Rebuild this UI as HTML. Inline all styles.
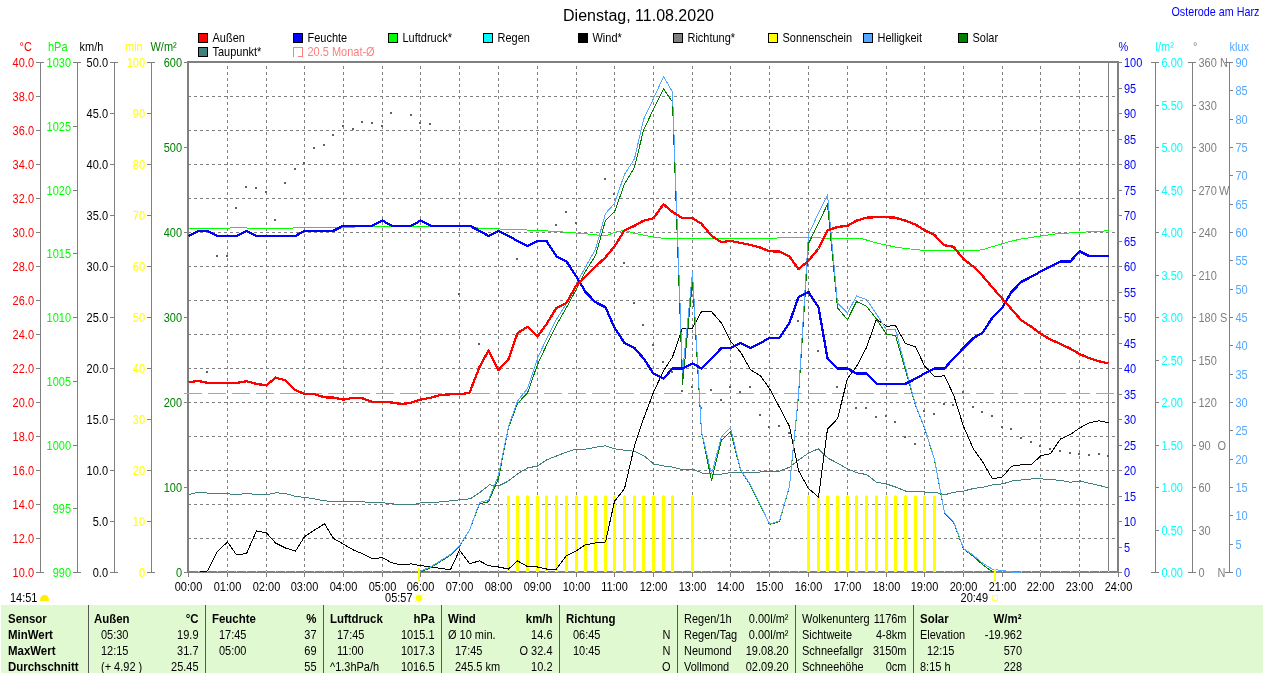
<!DOCTYPE html><html lang="de"><head><meta charset="utf-8"><title>Dienstag, 11.08.2020</title>
<style>html,body{margin:0;padding:0;background:#fff;overflow:hidden}svg{display:block;will-change:transform}text{font-family:"Liberation Sans",Arial,sans-serif;font-size:12px;white-space:pre}</style></head><body>
<svg width="1272" height="673" viewBox="0 0 1272 673" shape-rendering="crispEdges">
<rect x="0" y="0" width="1272" height="673" fill="#fff"/>
<g id="grid" stroke="#808080" stroke-width="1" stroke-dasharray="3,3">
<line x1="227.5" y1="66" x2="227.5" y2="571"/>
<line x1="266.5" y1="66" x2="266.5" y2="571"/>
<line x1="304.5" y1="66" x2="304.5" y2="571"/>
<line x1="343.5" y1="66" x2="343.5" y2="571"/>
<line x1="382.5" y1="66" x2="382.5" y2="571"/>
<line x1="420.5" y1="66" x2="420.5" y2="571"/>
<line x1="459.5" y1="66" x2="459.5" y2="571"/>
<line x1="498.5" y1="66" x2="498.5" y2="571"/>
<line x1="537.5" y1="66" x2="537.5" y2="571"/>
<line x1="576.5" y1="66" x2="576.5" y2="571"/>
<line x1="614.5" y1="66" x2="614.5" y2="571"/>
<line x1="653.5" y1="66" x2="653.5" y2="571"/>
<line x1="692.5" y1="66" x2="692.5" y2="571"/>
<line x1="730.5" y1="66" x2="730.5" y2="571"/>
<line x1="769.5" y1="66" x2="769.5" y2="571"/>
<line x1="808.5" y1="66" x2="808.5" y2="571"/>
<line x1="847.5" y1="66" x2="847.5" y2="571"/>
<line x1="886.5" y1="66" x2="886.5" y2="571"/>
<line x1="924.5" y1="66" x2="924.5" y2="571"/>
<line x1="963.5" y1="66" x2="963.5" y2="571"/>
<line x1="1002.5" y1="66" x2="1002.5" y2="571"/>
<line x1="1040.5" y1="66" x2="1040.5" y2="571"/>
<line x1="1079.5" y1="66" x2="1079.5" y2="571"/>
<line x1="188" y1="96.5" x2="1116" y2="96.5"/>
<line x1="188" y1="130.5" x2="1116" y2="130.5"/>
<line x1="188" y1="164.5" x2="1116" y2="164.5"/>
<line x1="188" y1="198.5" x2="1116" y2="198.5"/>
<line x1="188" y1="232.5" x2="1116" y2="232.5"/>
<line x1="188" y1="266.5" x2="1116" y2="266.5"/>
<line x1="188" y1="300.5" x2="1116" y2="300.5"/>
<line x1="188" y1="334.5" x2="1116" y2="334.5"/>
<line x1="188" y1="368.5" x2="1116" y2="368.5"/>
<line x1="188" y1="402.5" x2="1116" y2="402.5"/>
<line x1="188" y1="436.5" x2="1116" y2="436.5"/>
<line x1="188" y1="470.5" x2="1116" y2="470.5"/>
<line x1="188" y1="504.5" x2="1116" y2="504.5"/>
<line x1="188" y1="538.5" x2="1116" y2="538.5"/>
</g>
<rect x="187" y="61" width="932" height="2" fill="#808080"/>
<rect x="187" y="571" width="932" height="2" fill="#808080"/>
<rect x="187" y="61" width="2" height="512" fill="#808080"/>
<rect x="1117" y="61" width="2" height="512" fill="#808080"/>
<rect x="1108" y="63" width="1" height="508" fill="#808080"/>
<g id="sun" fill="#ffff00">
<rect x="198" y="571" width="1" height="1"/>
<rect x="207" y="571" width="1" height="1"/>
<rect x="217" y="571" width="1" height="1"/>
<rect x="227" y="571" width="1" height="1"/>
<rect x="236" y="571" width="1" height="1"/>
<rect x="246" y="571" width="1" height="1"/>
<rect x="256" y="571" width="1" height="1"/>
<rect x="266" y="571" width="1" height="1"/>
<rect x="275" y="571" width="1" height="1"/>
<rect x="285" y="571" width="1" height="1"/>
<rect x="295" y="571" width="1" height="1"/>
<rect x="304" y="571" width="1" height="1"/>
<rect x="314" y="571" width="1" height="1"/>
<rect x="324" y="571" width="1" height="1"/>
<rect x="333" y="571" width="1" height="1"/>
<rect x="343" y="571" width="1" height="1"/>
<rect x="353" y="571" width="1" height="1"/>
<rect x="362" y="571" width="1" height="1"/>
<rect x="372" y="571" width="1" height="1"/>
<rect x="382" y="571" width="1" height="1"/>
<rect x="391" y="571" width="1" height="1"/>
<rect x="401" y="571" width="1" height="1"/>
<rect x="411" y="571" width="1" height="1"/>
<rect x="420" y="571" width="1" height="1"/>
<rect x="430" y="571" width="1" height="1"/>
<rect x="440" y="571" width="1" height="1"/>
<rect x="450" y="571" width="1" height="1"/>
<rect x="459" y="571" width="1" height="1"/>
<rect x="469" y="571" width="1" height="1"/>
<rect x="479" y="571" width="1" height="1"/>
<rect x="488" y="571" width="1" height="1"/>
<rect x="498" y="571" width="1" height="1"/>
<rect x="507" y="496" width="3" height="76"/><rect x="508" y="495" width="1" height="1"/>
<rect x="516" y="496" width="3" height="76"/><rect x="517" y="495" width="1" height="1"/>
<rect x="526" y="496" width="3" height="76"/><rect x="527" y="495" width="1" height="1"/>
<rect x="536" y="496" width="3" height="76"/><rect x="537" y="495" width="1" height="1"/>
<rect x="545" y="496" width="3" height="76"/><rect x="546" y="495" width="1" height="1"/>
<rect x="555" y="496" width="3" height="76"/><rect x="556" y="495" width="1" height="1"/>
<rect x="565" y="496" width="3" height="76"/><rect x="566" y="495" width="1" height="1"/>
<rect x="575" y="496" width="3" height="76"/><rect x="576" y="495" width="1" height="1"/>
<rect x="584" y="496" width="3" height="76"/><rect x="585" y="495" width="1" height="1"/>
<rect x="594" y="496" width="3" height="76"/><rect x="595" y="495" width="1" height="1"/>
<rect x="604" y="496" width="3" height="76"/><rect x="605" y="495" width="1" height="1"/>
<rect x="613" y="496" width="3" height="76"/><rect x="614" y="495" width="1" height="1"/>
<rect x="623" y="496" width="3" height="76"/><rect x="624" y="495" width="1" height="1"/>
<rect x="633" y="496" width="3" height="76"/><rect x="634" y="495" width="1" height="1"/>
<rect x="642" y="496" width="3" height="76"/><rect x="643" y="495" width="1" height="1"/>
<rect x="652" y="496" width="3" height="76"/><rect x="653" y="495" width="1" height="1"/>
<rect x="662" y="496" width="3" height="76"/><rect x="663" y="495" width="1" height="1"/>
<rect x="671" y="496" width="3" height="76"/><rect x="672" y="495" width="1" height="1"/>
<rect x="682" y="571" width="1" height="1"/>
<rect x="691" y="496" width="3" height="76"/><rect x="692" y="495" width="1" height="1"/>
<rect x="701" y="571" width="1" height="1"/>
<rect x="711" y="571" width="1" height="1"/>
<rect x="721" y="571" width="1" height="1"/>
<rect x="730" y="571" width="1" height="1"/>
<rect x="740" y="571" width="1" height="1"/>
<rect x="750" y="571" width="1" height="1"/>
<rect x="760" y="571" width="1" height="1"/>
<rect x="769" y="571" width="1" height="1"/>
<rect x="779" y="571" width="1" height="1"/>
<rect x="789" y="571" width="1" height="1"/>
<rect x="798" y="571" width="1" height="1"/>
<rect x="807" y="496" width="3" height="76"/><rect x="808" y="495" width="1" height="1"/>
<rect x="817" y="496" width="3" height="76"/><rect x="818" y="495" width="1" height="1"/>
<rect x="826" y="496" width="3" height="76"/><rect x="827" y="495" width="1" height="1"/>
<rect x="836" y="496" width="3" height="76"/><rect x="837" y="495" width="1" height="1"/>
<rect x="846" y="496" width="3" height="76"/><rect x="847" y="495" width="1" height="1"/>
<rect x="855" y="496" width="3" height="76"/><rect x="856" y="495" width="1" height="1"/>
<rect x="865" y="496" width="3" height="76"/><rect x="866" y="495" width="1" height="1"/>
<rect x="875" y="496" width="3" height="76"/><rect x="876" y="495" width="1" height="1"/>
<rect x="885" y="496" width="3" height="76"/><rect x="886" y="495" width="1" height="1"/>
<rect x="894" y="496" width="3" height="76"/><rect x="895" y="495" width="1" height="1"/>
<rect x="904" y="496" width="3" height="76"/><rect x="905" y="495" width="1" height="1"/>
<rect x="914" y="496" width="3" height="76"/><rect x="915" y="495" width="1" height="1"/>
<rect x="923" y="496" width="3" height="76"/><rect x="924" y="495" width="1" height="1"/>
<rect x="933" y="496" width="3" height="76"/><rect x="934" y="495" width="1" height="1"/>
<rect x="944" y="571" width="1" height="1"/>
<rect x="953" y="571" width="1" height="1"/>
<rect x="963" y="571" width="1" height="1"/>
<rect x="973" y="571" width="1" height="1"/>
<rect x="982" y="571" width="1" height="1"/>
<rect x="992" y="571" width="1" height="1"/>
<rect x="1002" y="571" width="1" height="1"/>
<rect x="1011" y="571" width="1" height="1"/>
<rect x="1021" y="571" width="1" height="1"/>
<rect x="1031" y="571" width="1" height="1"/>
<rect x="1040" y="571" width="1" height="1"/>
<rect x="1050" y="571" width="1" height="1"/>
<rect x="1060" y="571" width="1" height="1"/>
<rect x="1070" y="571" width="1" height="1"/>
<rect x="1079" y="571" width="1" height="1"/>
<rect x="1089" y="571" width="1" height="1"/>
<rect x="1099" y="571" width="1" height="1"/>
<rect x="1108" y="571" width="1" height="1"/>
</g>
<line x1="184" y1="393.5" x2="1117" y2="393.5" stroke="#ff8080" stroke-width="1" stroke-dasharray="18,6"/>
<g id="dir" fill="#606060">
<rect x="206" y="371" width="2" height="2"/>
<rect x="216" y="255" width="2" height="2"/>
<rect x="226" y="255" width="2" height="2"/>
<rect x="235" y="207" width="2" height="2"/>
<rect x="245" y="186" width="2" height="2"/>
<rect x="255" y="187" width="2" height="2"/>
<rect x="265" y="191" width="2" height="2"/>
<rect x="274" y="219" width="2" height="2"/>
<rect x="284" y="182" width="2" height="2"/>
<rect x="294" y="168" width="2" height="2"/>
<rect x="303" y="162" width="2" height="2"/>
<rect x="313" y="147" width="2" height="2"/>
<rect x="323" y="144" width="2" height="2"/>
<rect x="332" y="134" width="2" height="2"/>
<rect x="342" y="125" width="2" height="2"/>
<rect x="352" y="128" width="2" height="2"/>
<rect x="361" y="121" width="2" height="2"/>
<rect x="371" y="122" width="2" height="2"/>
<rect x="381" y="125" width="2" height="2"/>
<rect x="390" y="112" width="2" height="2"/>
<rect x="410" y="114" width="2" height="2"/>
<rect x="419" y="122" width="2" height="2"/>
<rect x="429" y="123" width="2" height="2"/>
<rect x="458" y="293" width="2" height="2"/>
<rect x="478" y="343" width="2" height="2"/>
<rect x="516" y="258" width="2" height="2"/>
<rect x="555" y="224" width="2" height="2"/>
<rect x="565" y="211" width="2" height="2"/>
<rect x="575" y="222" width="2" height="2"/>
<rect x="604" y="178" width="2" height="2"/>
<rect x="613" y="193" width="2" height="2"/>
<rect x="623" y="262" width="2" height="2"/>
<rect x="633" y="302" width="2" height="2"/>
<rect x="642" y="324" width="2" height="2"/>
<rect x="652" y="344" width="2" height="2"/>
<rect x="662" y="361" width="2" height="2"/>
<rect x="671" y="371" width="2" height="2"/>
<rect x="681" y="390" width="2" height="2"/>
<rect x="691" y="386" width="2" height="2"/>
<rect x="700" y="407" width="2" height="2"/>
<rect x="710" y="389" width="2" height="2"/>
<rect x="720" y="399" width="2" height="2"/>
<rect x="729" y="386" width="2" height="2"/>
<rect x="739" y="391" width="2" height="2"/>
<rect x="749" y="386" width="2" height="2"/>
<rect x="759" y="414" width="2" height="2"/>
<rect x="768" y="426" width="2" height="2"/>
<rect x="778" y="425" width="2" height="2"/>
<rect x="788" y="432" width="2" height="2"/>
<rect x="797" y="320" width="2" height="2"/>
<rect x="817" y="350" width="2" height="2"/>
<rect x="836" y="386" width="2" height="2"/>
<rect x="855" y="407" width="2" height="2"/>
<rect x="865" y="407" width="2" height="2"/>
<rect x="875" y="416" width="2" height="2"/>
<rect x="885" y="415" width="2" height="2"/>
<rect x="894" y="421" width="2" height="2"/>
<rect x="904" y="436" width="2" height="2"/>
<rect x="914" y="443" width="2" height="2"/>
<rect x="923" y="410" width="2" height="2"/>
<rect x="933" y="413" width="2" height="2"/>
<rect x="943" y="403" width="2" height="2"/>
<rect x="952" y="404" width="2" height="2"/>
<rect x="962" y="391" width="2" height="2"/>
<rect x="972" y="406" width="2" height="2"/>
<rect x="981" y="411" width="2" height="2"/>
<rect x="991" y="415" width="2" height="2"/>
<rect x="1001" y="426" width="2" height="2"/>
<rect x="1010" y="428" width="2" height="2"/>
<rect x="1020" y="437" width="2" height="2"/>
<rect x="1030" y="441" width="2" height="2"/>
<rect x="1039" y="445" width="2" height="2"/>
<rect x="1049" y="448" width="2" height="2"/>
<rect x="1059" y="450" width="2" height="2"/>
<rect x="1069" y="452" width="2" height="2"/>
<rect x="1078" y="453" width="2" height="2"/>
<rect x="1088" y="454" width="2" height="2"/>
<rect x="1098" y="453" width="2" height="2"/>
<rect x="1107" y="455" width="2" height="2"/>
</g>
<polyline points="188.8,494.5 199.4,492.0 208.3,493.2 217.9,493.7 227.7,493.7 237.3,495.0 246.9,493.0 256.8,494.8 266.4,494.8 276.0,492.7 285.8,493.7 295.4,496.3 305.3,497.5 314.9,499.0 324.5,500.8 334.3,501.8 343.9,501.8 353.8,501.8 363.4,501.8 373.0,502.8 382.8,502.8 392.4,503.8 402.3,504.9 411.8,504.9 421.4,502.8 431.3,502.8 440.9,501.8 450.7,500.8 460.3,499.8 470.2,498.8 479.8,492.5 489.4,484.9 499.2,485.7 508.2,481.1 518.0,473.5 527.6,468.0 537.5,466.0 547.1,459.6 556.7,455.9 566.5,452.1 576.1,449.0 586.0,449.0 595.6,447.3 605.2,445.8 615.0,448.8 624.6,450.3 634.5,451.3 644.1,455.9 653.7,463.9 663.5,466.0 673.1,467.2 683.0,469.8 692.6,469.0 702.1,473.0 712.0,474.0 721.6,474.0 731.4,472.5 741.0,472.0 750.6,473.0 760.5,472.0 770.1,471.5 779.9,471.0 789.5,467.2 799.1,459.6 809.0,452.8 818.2,448.8 828.0,458.2 837.6,463.2 847.5,468.8 857.1,472.8 866.7,474.6 876.5,482.2 886.1,483.9 896.0,487.2 905.6,491.0 915.2,491.0 925.0,492.0 934.6,492.0 944.5,494.8 954.1,492.3 963.7,491.0 973.5,488.5 983.1,487.2 993.0,484.7 1002.6,483.9 1012.1,480.9 1022.0,479.9 1031.6,478.9 1041.4,478.9 1051.0,479.6 1060.6,480.4 1070.5,482.2 1080.1,480.9 1089.9,483.4 1099.5,485.5 1109.1,488.0" fill="none" stroke="#408080" stroke-width="1" />
<polyline points="200.5,571.7 207.5,571.0 217.5,551.3 227.5,542.0 236.5,554.8 246.5,553.6 256.5,530.9 266.5,532.9 275.5,543.0 285.5,548.0 295.5,551.1 304.5,536.7 314.5,530.1 324.5,523.8 333.5,538.4 343.5,544.2 353.5,550.0 362.5,553.8 372.5,558.9 382.5,557.6 391.5,562.7 401.5,564.9 411.5,563.9 420.5,565.7 430.5,566.7 440.5,568.5 450.5,569.7 459.5,550.0 469.5,563.7 479.5,560.9 488.5,565.7 498.5,567.0 508.5,569.0 517.5,560.9 527.5,566.5 537.5,567.0 546.5,569.0 556.5,569.0 566.5,555.6 576.5,550.6 585.5,544.7 595.5,543.0 605.5,542.0 614.5,501.3 624.5,488.7 634.5,445.8 643.5,418.8 653.5,392.3 663.5,370.8 672.5,357.0 682.5,328.0 692.5,328.0 701.5,311.6 711.5,311.6 721.5,323.0 730.5,341.2 740.5,351.9 750.5,369.8 760.5,375.9 769.5,388.5 779.5,407.4 789.5,426.4 798.5,470.5 808.5,488.5 818.5,497.1 827.5,428.9 837.5,418.8 847.5,378.4 856.5,366.5 866.5,347.5 876.5,319.2 886.5,326.3 895.5,325.5 905.5,343.5 915.5,346.7 924.5,365.8 934.5,376.4 944.5,375.9 953.5,394.8 963.5,426.4 973.5,449.1 982.5,461.7 992.5,478.9 1002.5,476.9 1011.5,466.3 1021.5,464.7 1031.5,464.7 1040.5,455.9 1050.5,453.6 1060.5,439.0 1070.5,434.4 1079.5,428.1 1089.5,422.6 1099.5,420.8 1108.5,422.8" fill="none" stroke="#000" stroke-width="1" />
<polyline points="188.8,228.8 241.1,227.8 256.3,228.3 289.1,228.3 301.7,227.3 337.1,227.3 367.4,226.8 458.3,225.8 468.4,226.5 483.6,228.8 490.5,228.8 513.2,229.3 553.6,231.3 586.5,233.8 605.4,235.9 615.0,232.3 624.6,230.3 634.5,233.3 653.7,237.1 663.5,238.4 717.8,238.9 768.3,238.9 778.4,237.9 810.0,237.9 861.1,238.4 876.3,242.9 896.0,247.2 905.6,248.5 925.0,250.5 977.3,250.5 983.1,249.5 993.0,246.5 1012.1,240.9 1022.0,238.9 1041.4,235.9 1060.6,233.3 1080.1,232.6 1089.9,231.6 1109.1,230.8" fill="none" stroke="#00ff00" stroke-width="1" />
<polyline points="420.5,572.0 430.5,567.8 440.5,561.5 450.5,555.1 459.5,546.3 469.5,530.3 479.5,503.8 488.5,501.8 498.5,478.3 508.5,427.6 517.5,403.4 527.5,393.0 537.5,364.5 546.5,345.2 556.5,325.0 566.5,307.5 576.5,288.9 585.5,271.2 595.5,255.5 605.5,220.3 614.5,211.9 624.5,184.0 634.5,167.3 643.5,130.2 653.5,109.1 663.5,88.8 672.5,102.0 682.5,384.5 692.5,281.3 701.5,432.0 711.5,480.5 721.5,440.2 730.5,431.5 740.5,470.0 750.5,485.5 760.5,505.5 769.5,524.5 779.5,521.5 789.5,486.5 798.5,396.5 808.5,243.5 818.5,223.2 827.5,204.2 837.5,307.8 847.5,319.7 856.5,301.5 866.5,306.1 876.5,319.2 886.5,334.3 895.5,335.5 905.5,370.2 915.5,405.5 924.5,428.0 934.5,460.0 944.5,513.0 953.5,522.0 963.5,549.0 973.5,556.5 982.5,564.5 992.5,571.8" fill="none" stroke="#008000" stroke-width="1" />
<polyline points="414.5,571.5 419.5,571.5 420.5,571.1 430.5,567.0 440.5,560.7 450.5,554.3 459.5,545.5 469.5,530.3 479.5,502.5 488.5,500.0 498.5,475.0 508.5,426.4 517.5,401.1 527.5,388.5 537.5,358.2 546.5,339.0 556.5,319.2 566.5,303.5 576.5,283.7 585.5,267.0 595.5,249.4 605.5,213.4 614.5,203.5 624.5,174.3 634.5,158.8 643.5,119.6 653.5,98.5 663.5,76.7 672.5,91.9 682.5,373.3 692.5,272.5 701.5,431.5 711.5,474.3 721.5,436.5 730.5,427.5 740.5,469.5 750.5,484.9 760.5,505.1 769.5,524.0 779.5,520.8 789.5,486.0 798.5,394.5 808.5,234.5 818.5,213.1 827.5,194.9 837.5,302.8 847.5,312.9 856.5,296.0 866.5,299.5 876.5,314.1 886.5,329.8 895.5,329.8 905.5,367.5 915.5,404.9 924.5,427.5 934.5,459.5 944.5,512.5 953.5,521.3 963.5,548.5 973.5,555.5 982.5,563.0 992.5,569.3 1002.5,570.5 1011.5,572.0 1021.5,572.0" fill="none" stroke="#55a8ff" stroke-width="1" />
<polyline points="188.5,235.9 198.5,230.8 207.5,230.8 217.5,235.9 227.5,235.9 236.5,235.9 246.5,230.8 256.5,235.9 266.5,235.9 275.5,235.9 285.5,235.9 295.5,235.9 304.5,230.8 314.5,230.8 324.5,230.8 333.5,230.8 343.5,225.7 353.5,225.7 362.5,225.7 372.5,225.7 382.5,220.6 391.5,225.7 401.5,225.7 411.5,225.7 420.5,220.6 430.5,225.7 440.5,225.7 450.5,225.7 459.5,225.7 469.5,225.7 479.5,230.8 488.5,235.9 498.5,230.8 508.5,235.9 517.5,241.0 527.5,246.1 537.5,241.0 546.5,241.0 556.5,256.3 566.5,261.4 576.5,276.7 585.5,292.0 595.5,302.2 605.5,307.3 614.5,327.7 624.5,343.0 634.5,348.1 643.5,358.3 653.5,373.6 663.5,378.7 672.5,368.5 682.5,368.5 692.5,363.4 701.5,368.5 711.5,358.3 721.5,348.1 730.5,348.1 740.5,343.0 750.5,348.1 760.5,343.0 769.5,337.9 779.5,337.9 789.5,322.6 798.5,297.1 808.5,292.0 818.5,307.3 827.5,358.3 837.5,368.5 847.5,368.5 856.5,373.6 866.5,373.6 876.5,383.8 886.5,383.8 895.5,383.8 905.5,383.8 915.5,378.7 924.5,373.6 934.5,368.5 944.5,368.5 953.5,358.3 963.5,348.1 973.5,337.9 982.5,332.8 992.5,317.5 1002.5,307.3 1011.5,292.0 1021.5,281.8 1031.5,276.7 1040.5,271.6 1050.5,266.5 1060.5,261.4 1070.5,261.4 1079.5,251.2 1089.5,256.3 1099.5,256.3 1108.5,256.3" fill="none" stroke="#0000ff" stroke-width="2.3" stroke-linejoin="round"/>
<polyline points="188.5,382.2 198.5,380.9 207.5,382.9 217.5,382.9 227.5,382.9 236.5,382.9 246.5,381.2 256.5,383.9 266.5,385.4 275.5,377.6 285.5,380.4 295.5,390.2 304.5,394.0 314.5,394.3 324.5,397.3 333.5,397.6 343.5,399.6 353.5,397.8 362.5,398.3 372.5,401.9 382.5,402.1 391.5,402.4 401.5,404.1 411.5,402.6 420.5,399.6 430.5,397.8 440.5,395.0 450.5,394.3 459.5,394.3 469.5,392.8 479.5,367.0 488.5,350.6 498.5,370.0 508.5,359.1 517.5,333.1 527.5,326.8 537.5,336.4 546.5,324.2 556.5,307.8 566.5,302.8 576.5,285.1 585.5,276.3 595.5,266.7 605.5,257.3 614.5,246.5 624.5,230.3 634.5,225.8 643.5,220.7 653.5,218.2 663.5,204.3 672.5,211.9 682.5,218.2 692.5,218.2 701.5,223.7 711.5,235.9 721.5,242.2 730.5,240.9 740.5,242.9 750.5,244.9 760.5,247.7 769.5,251.3 779.5,251.5 789.5,256.5 798.5,269.2 808.5,260.8 818.5,248.5 827.5,230.3 837.5,227.0 847.5,225.8 856.5,220.7 866.5,217.7 876.5,217.2 886.5,217.2 895.5,217.7 905.5,220.7 915.5,224.5 924.5,230.3 934.5,235.1 944.5,245.2 953.5,246.7 963.5,259.1 973.5,266.7 982.5,275.8 992.5,287.6 1002.5,299.0 1011.5,309.1 1021.5,320.5 1031.5,326.8 1040.5,333.6 1050.5,339.6 1060.5,343.9 1070.5,348.7 1079.5,354.0 1089.5,358.3 1099.5,361.4 1108.5,363.4" fill="none" stroke="#ff0000" stroke-width="2.3" stroke-linejoin="round"/>
<rect x="188" y="573" width="1" height="4" fill="#808080"/>
<text transform="matrix(0.915 0 0 1 188.5 591)" fill="#000" text-anchor="middle" >00:00</text>
<rect x="227" y="573" width="1" height="4" fill="#808080"/>
<text transform="matrix(0.915 0 0 1 227.5 591)" fill="#000" text-anchor="middle" >01:00</text>
<rect x="266" y="573" width="1" height="4" fill="#808080"/>
<text transform="matrix(0.915 0 0 1 266.5 591)" fill="#000" text-anchor="middle" >02:00</text>
<rect x="304" y="573" width="1" height="4" fill="#808080"/>
<text transform="matrix(0.915 0 0 1 304.5 591)" fill="#000" text-anchor="middle" >03:00</text>
<rect x="343" y="573" width="1" height="4" fill="#808080"/>
<text transform="matrix(0.915 0 0 1 343.5 591)" fill="#000" text-anchor="middle" >04:00</text>
<rect x="382" y="573" width="1" height="4" fill="#808080"/>
<text transform="matrix(0.915 0 0 1 382.5 591)" fill="#000" text-anchor="middle" >05:00</text>
<rect x="420" y="573" width="1" height="4" fill="#808080"/>
<text transform="matrix(0.915 0 0 1 420.5 591)" fill="#000" text-anchor="middle" >06:00</text>
<rect x="459" y="573" width="1" height="4" fill="#808080"/>
<text transform="matrix(0.915 0 0 1 459.5 591)" fill="#000" text-anchor="middle" >07:00</text>
<rect x="498" y="573" width="1" height="4" fill="#808080"/>
<text transform="matrix(0.915 0 0 1 498.5 591)" fill="#000" text-anchor="middle" >08:00</text>
<rect x="537" y="573" width="1" height="4" fill="#808080"/>
<text transform="matrix(0.915 0 0 1 537.5 591)" fill="#000" text-anchor="middle" >09:00</text>
<rect x="576" y="573" width="1" height="4" fill="#808080"/>
<text transform="matrix(0.915 0 0 1 576.5 591)" fill="#000" text-anchor="middle" >10:00</text>
<rect x="614" y="573" width="1" height="4" fill="#808080"/>
<text transform="matrix(0.915 0 0 1 614.5 591)" fill="#000" text-anchor="middle" >11:00</text>
<rect x="653" y="573" width="1" height="4" fill="#808080"/>
<text transform="matrix(0.915 0 0 1 653.5 591)" fill="#000" text-anchor="middle" >12:00</text>
<rect x="692" y="573" width="1" height="4" fill="#808080"/>
<text transform="matrix(0.915 0 0 1 692.5 591)" fill="#000" text-anchor="middle" >13:00</text>
<rect x="730" y="573" width="1" height="4" fill="#808080"/>
<text transform="matrix(0.915 0 0 1 730.5 591)" fill="#000" text-anchor="middle" >14:00</text>
<rect x="769" y="573" width="1" height="4" fill="#808080"/>
<text transform="matrix(0.915 0 0 1 769.5 591)" fill="#000" text-anchor="middle" >15:00</text>
<rect x="808" y="573" width="1" height="4" fill="#808080"/>
<text transform="matrix(0.915 0 0 1 808.5 591)" fill="#000" text-anchor="middle" >16:00</text>
<rect x="847" y="573" width="1" height="4" fill="#808080"/>
<text transform="matrix(0.915 0 0 1 847.5 591)" fill="#000" text-anchor="middle" >17:00</text>
<rect x="886" y="573" width="1" height="4" fill="#808080"/>
<text transform="matrix(0.915 0 0 1 886.5 591)" fill="#000" text-anchor="middle" >18:00</text>
<rect x="924" y="573" width="1" height="4" fill="#808080"/>
<text transform="matrix(0.915 0 0 1 924.5 591)" fill="#000" text-anchor="middle" >19:00</text>
<rect x="963" y="573" width="1" height="4" fill="#808080"/>
<text transform="matrix(0.915 0 0 1 963.5 591)" fill="#000" text-anchor="middle" >20:00</text>
<rect x="1002" y="573" width="1" height="4" fill="#808080"/>
<text transform="matrix(0.915 0 0 1 1002.5 591)" fill="#000" text-anchor="middle" >21:00</text>
<rect x="1040" y="573" width="1" height="4" fill="#808080"/>
<text transform="matrix(0.915 0 0 1 1040.5 591)" fill="#000" text-anchor="middle" >22:00</text>
<rect x="1079" y="573" width="1" height="4" fill="#808080"/>
<text transform="matrix(0.915 0 0 1 1079.5 591)" fill="#000" text-anchor="middle" >23:00</text>
<rect x="1118" y="573" width="1" height="4" fill="#808080"/>
<text transform="matrix(0.915 0 0 1 1118.5 591)" fill="#000" text-anchor="middle" >24:00</text>
<rect x="40" y="62" width="1" height="511" fill="#808080"/>
<rect x="36" y="62" width="8" height="1" fill="#808080"/>
<rect x="36" y="572" width="8" height="1" fill="#808080"/>
<rect x="36" y="572" width="4" height="1" fill="#808080"/>
<text transform="matrix(0.915 0 0 1 34 577)" fill="#ff0000" text-anchor="end" >10.0</text>
<rect x="36" y="538" width="4" height="1" fill="#808080"/>
<text transform="matrix(0.915 0 0 1 34 543)" fill="#ff0000" text-anchor="end" >12.0</text>
<rect x="36" y="504" width="4" height="1" fill="#808080"/>
<text transform="matrix(0.915 0 0 1 34 509)" fill="#ff0000" text-anchor="end" >14.0</text>
<rect x="36" y="470" width="4" height="1" fill="#808080"/>
<text transform="matrix(0.915 0 0 1 34 475)" fill="#ff0000" text-anchor="end" >16.0</text>
<rect x="36" y="436" width="4" height="1" fill="#808080"/>
<text transform="matrix(0.915 0 0 1 34 441)" fill="#ff0000" text-anchor="end" >18.0</text>
<rect x="36" y="402" width="4" height="1" fill="#808080"/>
<text transform="matrix(0.915 0 0 1 34 407)" fill="#ff0000" text-anchor="end" >20.0</text>
<rect x="36" y="368" width="4" height="1" fill="#808080"/>
<text transform="matrix(0.915 0 0 1 34 373)" fill="#ff0000" text-anchor="end" >22.0</text>
<rect x="36" y="334" width="4" height="1" fill="#808080"/>
<text transform="matrix(0.915 0 0 1 34 339)" fill="#ff0000" text-anchor="end" >24.0</text>
<rect x="36" y="300" width="4" height="1" fill="#808080"/>
<text transform="matrix(0.915 0 0 1 34 305)" fill="#ff0000" text-anchor="end" >26.0</text>
<rect x="36" y="266" width="4" height="1" fill="#808080"/>
<text transform="matrix(0.915 0 0 1 34 271)" fill="#ff0000" text-anchor="end" >28.0</text>
<rect x="36" y="232" width="4" height="1" fill="#808080"/>
<text transform="matrix(0.915 0 0 1 34 237)" fill="#ff0000" text-anchor="end" >30.0</text>
<rect x="36" y="198" width="4" height="1" fill="#808080"/>
<text transform="matrix(0.915 0 0 1 34 203)" fill="#ff0000" text-anchor="end" >32.0</text>
<rect x="36" y="164" width="4" height="1" fill="#808080"/>
<text transform="matrix(0.915 0 0 1 34 169)" fill="#ff0000" text-anchor="end" >34.0</text>
<rect x="36" y="130" width="4" height="1" fill="#808080"/>
<text transform="matrix(0.915 0 0 1 34 135)" fill="#ff0000" text-anchor="end" >36.0</text>
<rect x="36" y="96" width="4" height="1" fill="#808080"/>
<text transform="matrix(0.915 0 0 1 34 101)" fill="#ff0000" text-anchor="end" >38.0</text>
<rect x="36" y="62" width="4" height="1" fill="#808080"/>
<text transform="matrix(0.915 0 0 1 34 67)" fill="#ff0000" text-anchor="end" >40.0</text>
<text transform="matrix(0.915 0 0 1 19.5 51)" fill="#ff0000" >°C</text>
<rect x="77" y="62" width="1" height="511" fill="#808080"/>
<rect x="73" y="62" width="8" height="1" fill="#808080"/>
<rect x="73" y="572" width="8" height="1" fill="#808080"/>
<rect x="73" y="572" width="4" height="1" fill="#808080"/>
<text transform="matrix(0.915 0 0 1 71 577)" fill="#00ff00" text-anchor="end" >990</text>
<rect x="73" y="508" width="4" height="1" fill="#808080"/>
<text transform="matrix(0.915 0 0 1 71 513)" fill="#00ff00" text-anchor="end" >995</text>
<rect x="73" y="445" width="4" height="1" fill="#808080"/>
<text transform="matrix(0.915 0 0 1 71 450)" fill="#00ff00" text-anchor="end" >1000</text>
<rect x="73" y="381" width="4" height="1" fill="#808080"/>
<text transform="matrix(0.915 0 0 1 71 386)" fill="#00ff00" text-anchor="end" >1005</text>
<rect x="73" y="317" width="4" height="1" fill="#808080"/>
<text transform="matrix(0.915 0 0 1 71 322)" fill="#00ff00" text-anchor="end" >1010</text>
<rect x="73" y="253" width="4" height="1" fill="#808080"/>
<text transform="matrix(0.915 0 0 1 71 258)" fill="#00ff00" text-anchor="end" >1015</text>
<rect x="73" y="190" width="4" height="1" fill="#808080"/>
<text transform="matrix(0.915 0 0 1 71 195)" fill="#00ff00" text-anchor="end" >1020</text>
<rect x="73" y="126" width="4" height="1" fill="#808080"/>
<text transform="matrix(0.915 0 0 1 71 131)" fill="#00ff00" text-anchor="end" >1025</text>
<rect x="73" y="62" width="4" height="1" fill="#808080"/>
<text transform="matrix(0.915 0 0 1 71 67)" fill="#00ff00" text-anchor="end" >1030</text>
<text transform="matrix(0.915 0 0 1 48 51)" fill="#00ff00" >hPa</text>
<rect x="114" y="62" width="1" height="511" fill="#808080"/>
<rect x="110" y="62" width="8" height="1" fill="#808080"/>
<rect x="110" y="572" width="8" height="1" fill="#808080"/>
<rect x="110" y="572" width="4" height="1" fill="#808080"/>
<text transform="matrix(0.915 0 0 1 108 577)" fill="#000000" text-anchor="end" >0.0</text>
<rect x="110" y="521" width="4" height="1" fill="#808080"/>
<text transform="matrix(0.915 0 0 1 108 526)" fill="#000000" text-anchor="end" >5.0</text>
<rect x="110" y="470" width="4" height="1" fill="#808080"/>
<text transform="matrix(0.915 0 0 1 108 475)" fill="#000000" text-anchor="end" >10.0</text>
<rect x="110" y="419" width="4" height="1" fill="#808080"/>
<text transform="matrix(0.915 0 0 1 108 424)" fill="#000000" text-anchor="end" >15.0</text>
<rect x="110" y="368" width="4" height="1" fill="#808080"/>
<text transform="matrix(0.915 0 0 1 108 373)" fill="#000000" text-anchor="end" >20.0</text>
<rect x="110" y="317" width="4" height="1" fill="#808080"/>
<text transform="matrix(0.915 0 0 1 108 322)" fill="#000000" text-anchor="end" >25.0</text>
<rect x="110" y="266" width="4" height="1" fill="#808080"/>
<text transform="matrix(0.915 0 0 1 108 271)" fill="#000000" text-anchor="end" >30.0</text>
<rect x="110" y="215" width="4" height="1" fill="#808080"/>
<text transform="matrix(0.915 0 0 1 108 220)" fill="#000000" text-anchor="end" >35.0</text>
<rect x="110" y="164" width="4" height="1" fill="#808080"/>
<text transform="matrix(0.915 0 0 1 108 169)" fill="#000000" text-anchor="end" >40.0</text>
<rect x="110" y="113" width="4" height="1" fill="#808080"/>
<text transform="matrix(0.915 0 0 1 108 118)" fill="#000000" text-anchor="end" >45.0</text>
<rect x="110" y="62" width="4" height="1" fill="#808080"/>
<text transform="matrix(0.915 0 0 1 108 67)" fill="#000000" text-anchor="end" >50.0</text>
<text transform="matrix(0.915 0 0 1 79.5 51)" fill="#000000" >km/h</text>
<rect x="151" y="62" width="1" height="511" fill="#808080"/>
<rect x="147" y="62" width="8" height="1" fill="#808080"/>
<rect x="147" y="572" width="8" height="1" fill="#808080"/>
<rect x="147" y="572" width="4" height="1" fill="#808080"/>
<text transform="matrix(0.915 0 0 1 145 577)" fill="#ffff00" text-anchor="end" >0</text>
<rect x="147" y="521" width="4" height="1" fill="#808080"/>
<text transform="matrix(0.915 0 0 1 145 526)" fill="#ffff00" text-anchor="end" >10</text>
<rect x="147" y="470" width="4" height="1" fill="#808080"/>
<text transform="matrix(0.915 0 0 1 145 475)" fill="#ffff00" text-anchor="end" >20</text>
<rect x="147" y="419" width="4" height="1" fill="#808080"/>
<text transform="matrix(0.915 0 0 1 145 424)" fill="#ffff00" text-anchor="end" >30</text>
<rect x="147" y="368" width="4" height="1" fill="#808080"/>
<text transform="matrix(0.915 0 0 1 145 373)" fill="#ffff00" text-anchor="end" >40</text>
<rect x="147" y="317" width="4" height="1" fill="#808080"/>
<text transform="matrix(0.915 0 0 1 145 322)" fill="#ffff00" text-anchor="end" >50</text>
<rect x="147" y="266" width="4" height="1" fill="#808080"/>
<text transform="matrix(0.915 0 0 1 145 271)" fill="#ffff00" text-anchor="end" >60</text>
<rect x="147" y="215" width="4" height="1" fill="#808080"/>
<text transform="matrix(0.915 0 0 1 145 220)" fill="#ffff00" text-anchor="end" >70</text>
<rect x="147" y="164" width="4" height="1" fill="#808080"/>
<text transform="matrix(0.915 0 0 1 145 169)" fill="#ffff00" text-anchor="end" >80</text>
<rect x="147" y="113" width="4" height="1" fill="#808080"/>
<text transform="matrix(0.915 0 0 1 145 118)" fill="#ffff00" text-anchor="end" >90</text>
<rect x="147" y="62" width="4" height="1" fill="#808080"/>
<text transform="matrix(0.915 0 0 1 145 67)" fill="#ffff00" text-anchor="end" >100</text>
<text transform="matrix(0.915 0 0 1 125 51)" fill="#ffff00" >min</text>
<rect x="184" y="572" width="4" height="1" fill="#808080"/>
<text transform="matrix(0.915 0 0 1 182 577)" fill="#008000" text-anchor="end" >0</text>
<rect x="184" y="487" width="4" height="1" fill="#808080"/>
<text transform="matrix(0.915 0 0 1 182 492)" fill="#008000" text-anchor="end" >100</text>
<rect x="184" y="402" width="4" height="1" fill="#808080"/>
<text transform="matrix(0.915 0 0 1 182 407)" fill="#008000" text-anchor="end" >200</text>
<rect x="184" y="317" width="4" height="1" fill="#808080"/>
<text transform="matrix(0.915 0 0 1 182 322)" fill="#008000" text-anchor="end" >300</text>
<rect x="184" y="232" width="4" height="1" fill="#808080"/>
<text transform="matrix(0.915 0 0 1 182 237)" fill="#008000" text-anchor="end" >400</text>
<rect x="184" y="147" width="4" height="1" fill="#808080"/>
<text transform="matrix(0.915 0 0 1 182 152)" fill="#008000" text-anchor="end" >500</text>
<rect x="184" y="62" width="4" height="1" fill="#808080"/>
<text transform="matrix(0.915 0 0 1 182 67)" fill="#008000" text-anchor="end" >600</text>
<text transform="matrix(0.915 0 0 1 150.5 51)" fill="#008000" >W/m²</text>
<rect x="1119" y="572" width="3" height="1" fill="#808080"/>
<text transform="matrix(0.915 0 0 1 1124 577)" fill="#0000ff" >0</text>
<rect x="1119" y="547" width="3" height="1" fill="#808080"/>
<text transform="matrix(0.915 0 0 1 1124 552)" fill="#0000ff" >5</text>
<rect x="1119" y="521" width="3" height="1" fill="#808080"/>
<text transform="matrix(0.915 0 0 1 1124 526)" fill="#0000ff" >10</text>
<rect x="1119" y="496" width="3" height="1" fill="#808080"/>
<text transform="matrix(0.915 0 0 1 1124 501)" fill="#0000ff" >15</text>
<rect x="1119" y="470" width="3" height="1" fill="#808080"/>
<text transform="matrix(0.915 0 0 1 1124 475)" fill="#0000ff" >20</text>
<rect x="1119" y="445" width="3" height="1" fill="#808080"/>
<text transform="matrix(0.915 0 0 1 1124 450)" fill="#0000ff" >25</text>
<rect x="1119" y="419" width="3" height="1" fill="#808080"/>
<text transform="matrix(0.915 0 0 1 1124 424)" fill="#0000ff" >30</text>
<rect x="1119" y="394" width="3" height="1" fill="#808080"/>
<text transform="matrix(0.915 0 0 1 1124 399)" fill="#0000ff" >35</text>
<rect x="1119" y="368" width="3" height="1" fill="#808080"/>
<text transform="matrix(0.915 0 0 1 1124 373)" fill="#0000ff" >40</text>
<rect x="1119" y="343" width="3" height="1" fill="#808080"/>
<text transform="matrix(0.915 0 0 1 1124 348)" fill="#0000ff" >45</text>
<rect x="1119" y="317" width="3" height="1" fill="#808080"/>
<text transform="matrix(0.915 0 0 1 1124 322)" fill="#0000ff" >50</text>
<rect x="1119" y="292" width="3" height="1" fill="#808080"/>
<text transform="matrix(0.915 0 0 1 1124 297)" fill="#0000ff" >55</text>
<rect x="1119" y="266" width="3" height="1" fill="#808080"/>
<text transform="matrix(0.915 0 0 1 1124 271)" fill="#0000ff" >60</text>
<rect x="1119" y="241" width="3" height="1" fill="#808080"/>
<text transform="matrix(0.915 0 0 1 1124 246)" fill="#0000ff" >65</text>
<rect x="1119" y="215" width="3" height="1" fill="#808080"/>
<text transform="matrix(0.915 0 0 1 1124 220)" fill="#0000ff" >70</text>
<rect x="1119" y="190" width="3" height="1" fill="#808080"/>
<text transform="matrix(0.915 0 0 1 1124 195)" fill="#0000ff" >75</text>
<rect x="1119" y="164" width="3" height="1" fill="#808080"/>
<text transform="matrix(0.915 0 0 1 1124 169)" fill="#0000ff" >80</text>
<rect x="1119" y="139" width="3" height="1" fill="#808080"/>
<text transform="matrix(0.915 0 0 1 1124 144)" fill="#0000ff" >85</text>
<rect x="1119" y="113" width="3" height="1" fill="#808080"/>
<text transform="matrix(0.915 0 0 1 1124 118)" fill="#0000ff" >90</text>
<rect x="1119" y="88" width="3" height="1" fill="#808080"/>
<text transform="matrix(0.915 0 0 1 1124 93)" fill="#0000ff" >95</text>
<rect x="1119" y="62" width="3" height="1" fill="#808080"/>
<text transform="matrix(0.915 0 0 1 1124 67)" fill="#0000ff" >100</text>
<text transform="matrix(0.915 0 0 1 1118.5 51)" fill="#0000ff" >%</text>
<rect x="1155" y="62" width="1" height="511" fill="#808080"/>
<rect x="1151" y="62" width="8" height="1" fill="#808080"/>
<rect x="1151" y="572" width="8" height="1" fill="#808080"/>
<rect x="1156" y="572" width="3" height="1" fill="#808080"/>
<text transform="matrix(0.915 0 0 1 1161.5 577)" fill="#00ffff" >0.00</text>
<rect x="1156" y="530" width="3" height="1" fill="#808080"/>
<text transform="matrix(0.915 0 0 1 1161.5 535)" fill="#00ffff" >0.50</text>
<rect x="1156" y="487" width="3" height="1" fill="#808080"/>
<text transform="matrix(0.915 0 0 1 1161.5 492)" fill="#00ffff" >1.00</text>
<rect x="1156" y="445" width="3" height="1" fill="#808080"/>
<text transform="matrix(0.915 0 0 1 1161.5 450)" fill="#00ffff" >1.50</text>
<rect x="1156" y="402" width="3" height="1" fill="#808080"/>
<text transform="matrix(0.915 0 0 1 1161.5 407)" fill="#00ffff" >2.00</text>
<rect x="1156" y="360" width="3" height="1" fill="#808080"/>
<text transform="matrix(0.915 0 0 1 1161.5 365)" fill="#00ffff" >2.50</text>
<rect x="1156" y="317" width="3" height="1" fill="#808080"/>
<text transform="matrix(0.915 0 0 1 1161.5 322)" fill="#00ffff" >3.00</text>
<rect x="1156" y="275" width="3" height="1" fill="#808080"/>
<text transform="matrix(0.915 0 0 1 1161.5 280)" fill="#00ffff" >3.50</text>
<rect x="1156" y="232" width="3" height="1" fill="#808080"/>
<text transform="matrix(0.915 0 0 1 1161.5 237)" fill="#00ffff" >4.00</text>
<rect x="1156" y="190" width="3" height="1" fill="#808080"/>
<text transform="matrix(0.915 0 0 1 1161.5 195)" fill="#00ffff" >4.50</text>
<rect x="1156" y="147" width="3" height="1" fill="#808080"/>
<text transform="matrix(0.915 0 0 1 1161.5 152)" fill="#00ffff" >5.00</text>
<rect x="1156" y="105" width="3" height="1" fill="#808080"/>
<text transform="matrix(0.915 0 0 1 1161.5 110)" fill="#00ffff" >5.50</text>
<rect x="1156" y="62" width="3" height="1" fill="#808080"/>
<text transform="matrix(0.915 0 0 1 1161.5 67)" fill="#00ffff" >6.00</text>
<text transform="matrix(0.915 0 0 1 1155.5 51)" fill="#00ffff" >l/m²</text>
<rect x="1192" y="62" width="1" height="511" fill="#808080"/>
<rect x="1188" y="62" width="8" height="1" fill="#808080"/>
<rect x="1188" y="572" width="8" height="1" fill="#808080"/>
<rect x="1193" y="572" width="3" height="1" fill="#808080"/>
<text transform="matrix(0.915 0 0 1 1198.5 577)" fill="#808080" >0</text>
<rect x="1193" y="530" width="3" height="1" fill="#808080"/>
<text transform="matrix(0.915 0 0 1 1198.5 535)" fill="#808080" >30</text>
<rect x="1193" y="487" width="3" height="1" fill="#808080"/>
<text transform="matrix(0.915 0 0 1 1198.5 492)" fill="#808080" >60</text>
<rect x="1193" y="445" width="3" height="1" fill="#808080"/>
<text transform="matrix(0.915 0 0 1 1198.5 450)" fill="#808080" >90</text>
<rect x="1193" y="402" width="3" height="1" fill="#808080"/>
<text transform="matrix(0.915 0 0 1 1198.5 407)" fill="#808080" >120</text>
<rect x="1193" y="360" width="3" height="1" fill="#808080"/>
<text transform="matrix(0.915 0 0 1 1198.5 365)" fill="#808080" >150</text>
<rect x="1193" y="317" width="3" height="1" fill="#808080"/>
<text transform="matrix(0.915 0 0 1 1198.5 322)" fill="#808080" >180</text>
<rect x="1193" y="275" width="3" height="1" fill="#808080"/>
<text transform="matrix(0.915 0 0 1 1198.5 280)" fill="#808080" >210</text>
<rect x="1193" y="232" width="3" height="1" fill="#808080"/>
<text transform="matrix(0.915 0 0 1 1198.5 237)" fill="#808080" >240</text>
<rect x="1193" y="190" width="3" height="1" fill="#808080"/>
<text transform="matrix(0.915 0 0 1 1198.5 195)" fill="#808080" >270</text>
<rect x="1193" y="147" width="3" height="1" fill="#808080"/>
<text transform="matrix(0.915 0 0 1 1198.5 152)" fill="#808080" >300</text>
<rect x="1193" y="105" width="3" height="1" fill="#808080"/>
<text transform="matrix(0.915 0 0 1 1198.5 110)" fill="#808080" >330</text>
<rect x="1193" y="62" width="3" height="1" fill="#808080"/>
<text transform="matrix(0.915 0 0 1 1198.5 67)" fill="#808080" >360</text>
<text transform="matrix(0.915 0 0 1 1193 51)" fill="#808080" >°</text>
<rect x="1229" y="62" width="1" height="511" fill="#808080"/>
<rect x="1225" y="62" width="8" height="1" fill="#808080"/>
<rect x="1225" y="572" width="8" height="1" fill="#808080"/>
<rect x="1230" y="572" width="3" height="1" fill="#808080"/>
<text transform="matrix(0.915 0 0 1 1235.5 577)" fill="#55a8ff" >0</text>
<rect x="1230" y="544" width="3" height="1" fill="#808080"/>
<text transform="matrix(0.915 0 0 1 1235.5 549)" fill="#55a8ff" >5</text>
<rect x="1230" y="515" width="3" height="1" fill="#808080"/>
<text transform="matrix(0.915 0 0 1 1235.5 520)" fill="#55a8ff" >10</text>
<rect x="1230" y="487" width="3" height="1" fill="#808080"/>
<text transform="matrix(0.915 0 0 1 1235.5 492)" fill="#55a8ff" >15</text>
<rect x="1230" y="459" width="3" height="1" fill="#808080"/>
<text transform="matrix(0.915 0 0 1 1235.5 464)" fill="#55a8ff" >20</text>
<rect x="1230" y="430" width="3" height="1" fill="#808080"/>
<text transform="matrix(0.915 0 0 1 1235.5 435)" fill="#55a8ff" >25</text>
<rect x="1230" y="402" width="3" height="1" fill="#808080"/>
<text transform="matrix(0.915 0 0 1 1235.5 407)" fill="#55a8ff" >30</text>
<rect x="1230" y="374" width="3" height="1" fill="#808080"/>
<text transform="matrix(0.915 0 0 1 1235.5 379)" fill="#55a8ff" >35</text>
<rect x="1230" y="345" width="3" height="1" fill="#808080"/>
<text transform="matrix(0.915 0 0 1 1235.5 350)" fill="#55a8ff" >40</text>
<rect x="1230" y="317" width="3" height="1" fill="#808080"/>
<text transform="matrix(0.915 0 0 1 1235.5 322)" fill="#55a8ff" >45</text>
<rect x="1230" y="289" width="3" height="1" fill="#808080"/>
<text transform="matrix(0.915 0 0 1 1235.5 294)" fill="#55a8ff" >50</text>
<rect x="1230" y="260" width="3" height="1" fill="#808080"/>
<text transform="matrix(0.915 0 0 1 1235.5 265)" fill="#55a8ff" >55</text>
<rect x="1230" y="232" width="3" height="1" fill="#808080"/>
<text transform="matrix(0.915 0 0 1 1235.5 237)" fill="#55a8ff" >60</text>
<rect x="1230" y="204" width="3" height="1" fill="#808080"/>
<text transform="matrix(0.915 0 0 1 1235.5 209)" fill="#55a8ff" >65</text>
<rect x="1230" y="175" width="3" height="1" fill="#808080"/>
<text transform="matrix(0.915 0 0 1 1235.5 180)" fill="#55a8ff" >70</text>
<rect x="1230" y="147" width="3" height="1" fill="#808080"/>
<text transform="matrix(0.915 0 0 1 1235.5 152)" fill="#55a8ff" >75</text>
<rect x="1230" y="119" width="3" height="1" fill="#808080"/>
<text transform="matrix(0.915 0 0 1 1235.5 124)" fill="#55a8ff" >80</text>
<rect x="1230" y="90" width="3" height="1" fill="#808080"/>
<text transform="matrix(0.915 0 0 1 1235.5 95)" fill="#55a8ff" >85</text>
<rect x="1230" y="62" width="3" height="1" fill="#808080"/>
<text transform="matrix(0.915 0 0 1 1235.5 67)" fill="#55a8ff" >90</text>
<text transform="matrix(0.915 0 0 1 1229.5 51)" fill="#55a8ff" >klux</text>
<text transform="matrix(0.915 0 0 1 1220 67)" fill="#808080" >N</text>
<text transform="matrix(0.915 0 0 1 1219 195)" fill="#808080" >W</text>
<text transform="matrix(0.915 0 0 1 1220 322)" fill="#808080" >S</text>
<text transform="matrix(0.915 0 0 1 1217.5 450)" fill="#808080" >O</text>
<text transform="matrix(0.915 0 0 1 1217.5 577)" fill="#808080" >N</text>
<text x="638.5" y="21" fill="#000" text-anchor="middle" style="font-size:16px" >Dienstag, 11.08.2020</text>
<text transform="matrix(0.915 0 0 1 1171.5 16)" fill="#0000ff" textLength="96" lengthAdjust="spacingAndGlyphs">Osterode am Harz</text>
<rect x="198.5" y="33.5" width="9" height="9" fill="#ff0000" stroke="#000" stroke-width="1"/>
<text transform="matrix(0.915 0 0 1 212.5 42)" fill="#000" >Außen</text>
<rect x="293.5" y="33.5" width="9" height="9" fill="#0000ff" stroke="#000" stroke-width="1"/>
<text transform="matrix(0.915 0 0 1 307.5 42)" fill="#000" >Feuchte</text>
<rect x="388.5" y="33.5" width="9" height="9" fill="#00ff00" stroke="#000" stroke-width="1"/>
<text transform="matrix(0.915 0 0 1 402.5 42)" fill="#000" >Luftdruck*</text>
<rect x="483.5" y="33.5" width="9" height="9" fill="#00ffff" stroke="#000" stroke-width="1"/>
<text transform="matrix(0.915 0 0 1 497.5 42)" fill="#000" >Regen</text>
<rect x="578.5" y="33.5" width="9" height="9" fill="#000000" stroke="#000" stroke-width="1"/>
<text transform="matrix(0.915 0 0 1 592.5 42)" fill="#000" >Wind*</text>
<rect x="673.5" y="33.5" width="9" height="9" fill="#808080" stroke="#000" stroke-width="1"/>
<text transform="matrix(0.915 0 0 1 687.5 42)" fill="#000" >Richtung*</text>
<rect x="768.5" y="33.5" width="9" height="9" fill="#ffff00" stroke="#000" stroke-width="1"/>
<text transform="matrix(0.915 0 0 1 782.5 42)" fill="#000" >Sonnenschein</text>
<rect x="863.5" y="33.5" width="9" height="9" fill="#55a8ff" stroke="#000" stroke-width="1"/>
<text transform="matrix(0.915 0 0 1 877.5 42)" fill="#000" >Helligkeit</text>
<rect x="958.5" y="33.5" width="9" height="9" fill="#008000" stroke="#000" stroke-width="1"/>
<text transform="matrix(0.915 0 0 1 972.5 42)" fill="#000" >Solar</text>
<rect x="198.5" y="47.5" width="9" height="9" fill="#408080" stroke="#000" stroke-width="1"/>
<text transform="matrix(0.915 0 0 1 212.5 56)" fill="#000" >Taupunkt*</text>
<polyline points="293.5,57 293.5,47.5 302.5,47.5 302.5,56.5 298,56.5" fill="none" stroke="#ff8080" stroke-width="1"/>
<text transform="matrix(0.915 0 0 1 307.5 56)" fill="#ff8080" >20.5 Monat-Ø</text>
<rect x="418" y="568" width="2" height="13" fill="#ffff00"/>
<rect x="994" y="569" width="2" height="12" fill="#ffff00"/>
<text transform="matrix(0.915 0 0 1 412.5 602)" fill="#000" text-anchor="end" >05:57</text>
<text transform="matrix(0.915 0 0 1 988 602)" fill="#000" text-anchor="end" >20:49</text>
<text transform="matrix(0.915 0 0 1 10 602)" fill="#000" >14:51</text>
<g shape-rendering="auto"><circle cx="419" cy="598" r="3.3" fill="#ffff00"/>
<g stroke="#ffff90" stroke-width="1">
<line x1="422.6" y1="598.0" x2="425.0" y2="598.0"/>
<line x1="421.5" y1="600.5" x2="423.2" y2="602.2"/>
<line x1="419.0" y1="601.6" x2="419.0" y2="604.0"/>
<line x1="416.5" y1="600.5" x2="414.8" y2="602.2"/>
<line x1="415.4" y1="598.0" x2="413.0" y2="598.0"/>
<line x1="416.5" y1="595.5" x2="414.8" y2="593.8"/>
<line x1="419.0" y1="594.4" x2="419.0" y2="592.0"/>
<line x1="421.5" y1="595.5" x2="423.2" y2="593.8"/>
</g>
<path d="M40,601 C40,596.5 42,595 44.5,595 C47,595 49,596.5 49,601 Z" fill="#ffee00"/></g>
<rect x="992.5" y="595.5" width="5" height="5" fill="none" stroke="#ffff66" stroke-width="1"/>
<rect x="1" y="605" width="1262" height="68" fill="#e1f9d0"/>
<rect x="88" y="605" width="1" height="69" fill="#585858"/>
<rect x="205" y="605" width="1" height="69" fill="#585858"/>
<rect x="323" y="605" width="1" height="69" fill="#585858"/>
<rect x="441" y="605" width="1" height="69" fill="#585858"/>
<rect x="559" y="605" width="1" height="69" fill="#585858"/>
<rect x="677" y="605" width="1" height="69" fill="#585858"/>
<rect x="795" y="605" width="1" height="69" fill="#585858"/>
<rect x="913" y="605" width="1" height="69" fill="#585858"/>
<text transform="matrix(0.955 0 0 1 8 623)" fill="#000" font-weight="bold" >Sensor</text>
<text transform="matrix(0.955 0 0 1 8 639)" fill="#000" font-weight="bold" >MinWert</text>
<text transform="matrix(0.955 0 0 1 8 655)" fill="#000" font-weight="bold" >MaxWert</text>
<text transform="matrix(0.955 0 0 1 8 671)" fill="#000" font-weight="bold" >Durchschnitt</text>
<text transform="matrix(0.955 0 0 1 94 623)" fill="#000" font-weight="bold" >Außen</text>
<text transform="matrix(0.955 0 0 1 198.5 623)" fill="#000" text-anchor="end" font-weight="bold" >°C</text>
<text transform="matrix(0.915 0 0 1 101 639)" fill="#000" >05:30</text>
<text transform="matrix(0.915 0 0 1 198.5 639)" fill="#000" text-anchor="end" >19.9</text>
<text transform="matrix(0.915 0 0 1 101 655)" fill="#000" >12:15</text>
<text transform="matrix(0.915 0 0 1 198.5 655)" fill="#000" text-anchor="end" >31.7</text>
<text transform="matrix(0.915 0 0 1 101 671)" fill="#000" >(+ 4.92 )</text>
<text transform="matrix(0.915 0 0 1 198.5 671)" fill="#000" text-anchor="end" >25.45</text>
<text transform="matrix(0.955 0 0 1 212 623)" fill="#000" font-weight="bold" >Feuchte</text>
<text transform="matrix(0.955 0 0 1 316.5 623)" fill="#000" text-anchor="end" font-weight="bold" >%</text>
<text transform="matrix(0.915 0 0 1 219 639)" fill="#000" >17:45</text>
<text transform="matrix(0.915 0 0 1 316.5 639)" fill="#000" text-anchor="end" >37</text>
<text transform="matrix(0.915 0 0 1 219 655)" fill="#000" >05:00</text>
<text transform="matrix(0.915 0 0 1 316.5 655)" fill="#000" text-anchor="end" >69</text>
<text transform="matrix(0.915 0 0 1 316.5 671)" fill="#000" text-anchor="end" >55</text>
<text transform="matrix(0.955 0 0 1 330 623)" fill="#000" font-weight="bold" >Luftdruck</text>
<text transform="matrix(0.955 0 0 1 434.5 623)" fill="#000" text-anchor="end" font-weight="bold" >hPa</text>
<text transform="matrix(0.915 0 0 1 337 639)" fill="#000" >17:45</text>
<text transform="matrix(0.915 0 0 1 434.5 639)" fill="#000" text-anchor="end" >1015.1</text>
<text transform="matrix(0.915 0 0 1 337 655)" fill="#000" >11:00</text>
<text transform="matrix(0.915 0 0 1 434.5 655)" fill="#000" text-anchor="end" >1017.3</text>
<text transform="matrix(0.915 0 0 1 330 671)" fill="#000" >^1.3hPa/h</text>
<text transform="matrix(0.915 0 0 1 434.5 671)" fill="#000" text-anchor="end" >1016.5</text>
<text transform="matrix(0.955 0 0 1 448 623)" fill="#000" font-weight="bold" >Wind</text>
<text transform="matrix(0.955 0 0 1 552.5 623)" fill="#000" text-anchor="end" font-weight="bold" >km/h</text>
<text transform="matrix(0.915 0 0 1 448 639)" fill="#000" >Ø 10 min.</text>
<text transform="matrix(0.915 0 0 1 552.5 639)" fill="#000" text-anchor="end" >14.6</text>
<text transform="matrix(0.915 0 0 1 455 655)" fill="#000" >17:45</text>
<text transform="matrix(0.915 0 0 1 552.5 655)" fill="#000" text-anchor="end" >O 32.4</text>
<text transform="matrix(0.915 0 0 1 455 671)" fill="#000" >245.5 km</text>
<text transform="matrix(0.915 0 0 1 552.5 671)" fill="#000" text-anchor="end" >10.2</text>
<text transform="matrix(0.955 0 0 1 566 623)" fill="#000" font-weight="bold" >Richtung</text>
<text transform="matrix(0.915 0 0 1 573 639)" fill="#000" >06:45</text>
<text transform="matrix(0.915 0 0 1 670.5 639)" fill="#000" text-anchor="end" >N</text>
<text transform="matrix(0.915 0 0 1 573 655)" fill="#000" >10:45</text>
<text transform="matrix(0.915 0 0 1 670.5 655)" fill="#000" text-anchor="end" >N</text>
<text transform="matrix(0.915 0 0 1 670.5 671)" fill="#000" text-anchor="end" >O</text>
<text transform="matrix(0.915 0 0 1 684 623)" fill="#000" >Regen/1h</text>
<text transform="matrix(0.915 0 0 1 788.5 623)" fill="#000" text-anchor="end" >0.00l/m²</text>
<text transform="matrix(0.915 0 0 1 684 639)" fill="#000" >Regen/Tag</text>
<text transform="matrix(0.915 0 0 1 788.5 639)" fill="#000" text-anchor="end" >0.00l/m²</text>
<text transform="matrix(0.915 0 0 1 684 655)" fill="#000" >Neumond</text>
<text transform="matrix(0.915 0 0 1 788.5 655)" fill="#000" text-anchor="end" >19.08.20</text>
<text transform="matrix(0.915 0 0 1 684 671)" fill="#000" >Vollmond</text>
<text transform="matrix(0.915 0 0 1 788.5 671)" fill="#000" text-anchor="end" >02.09.20</text>
<text transform="matrix(0.915 0 0 1 802 623)" fill="#000" >Wolkenunterg</text>
<text transform="matrix(0.915 0 0 1 906.5 623)" fill="#000" text-anchor="end" >1176m</text>
<text transform="matrix(0.915 0 0 1 802 639)" fill="#000" >Sichtweite</text>
<text transform="matrix(0.915 0 0 1 906.5 639)" fill="#000" text-anchor="end" >4-8km</text>
<text transform="matrix(0.915 0 0 1 802 655)" fill="#000" >Schneefallgr</text>
<text transform="matrix(0.915 0 0 1 906.5 655)" fill="#000" text-anchor="end" >3150m</text>
<text transform="matrix(0.915 0 0 1 802 671)" fill="#000" >Schneehöhe</text>
<text transform="matrix(0.915 0 0 1 906.5 671)" fill="#000" text-anchor="end" >0cm</text>
<text transform="matrix(0.955 0 0 1 920 623)" fill="#000" font-weight="bold" >Solar</text>
<text transform="matrix(0.955 0 0 1 1021.5 623)" fill="#000" text-anchor="end" font-weight="bold" >W/m²</text>
<text transform="matrix(0.915 0 0 1 920 639)" fill="#000" >Elevation</text>
<text transform="matrix(0.915 0 0 1 1022 639)" fill="#000" text-anchor="end" >-19.962</text>
<text transform="matrix(0.915 0 0 1 927 655)" fill="#000" >12:15</text>
<text transform="matrix(0.915 0 0 1 1022 655)" fill="#000" text-anchor="end" >570</text>
<text transform="matrix(0.915 0 0 1 920 671)" fill="#000" >8:15 h</text>
<text transform="matrix(0.915 0 0 1 1022 671)" fill="#000" text-anchor="end" >228</text>
</svg></body></html>
